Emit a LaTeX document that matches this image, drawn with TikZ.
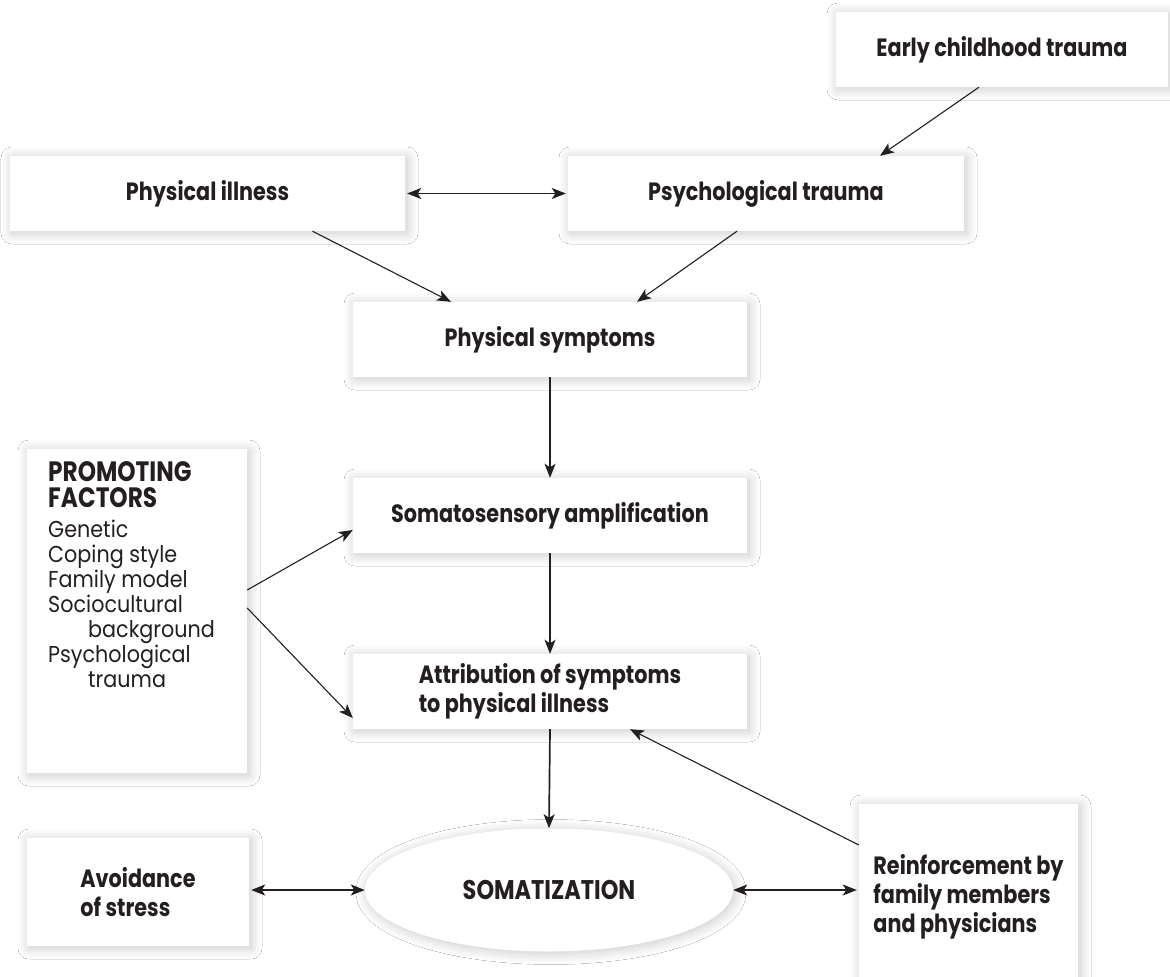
\documentclass[tikz,border=0pt]{standalone}
\usepackage{fontspec}
\setmainfont{Poppins}[FakeStretch=0.9]
\newfontfamily\hdfont{Poppins}[FakeStretch=0.83]
\usetikzlibrary{arrows.meta,shapes.geometric,shadows.blur}
\definecolor{ink}{HTML}{231F20}
\tikzset{
  box/.style={fill=white, draw=none, inner sep=0pt, align=center, text=ink,
    blur shadow={shadow xshift=2pt, shadow yshift=-2pt, shadow blur radius=11pt, shadow opacity=22, shadow blur steps=16},
    font=\hdfont\fontsize{25}{29}\selectfont\bfseries},
  plain/.style={inner sep=0pt, align=left, text=ink},
  tip/.tip={Stealth[length=14pt,width=11pt,inset=3.5pt]},
  arr/.style={-tip, line width=1.1pt, draw=ink},
  varr/.style={arr, line width=1.7pt},
  darr/.style={tip-tip, line width=1.7pt, draw=ink}
}
\begin{document}
\begin{tikzpicture}[x=1pt,y=-1pt]
\useasboundingbox (0,0) rectangle (1170,977);
\fill[white] (0,0) rectangle (1170,977);
\node[box, minimum width=332pt, minimum height=75pt] (early) at (1002,49.5) {Early childhood trauma};
\node[box, minimum width=395pt, minimum height=75pt] (pill) at (207.5,193.5) {Physical illness};
\node[box, minimum width=396pt, minimum height=75pt] (ptrauma) at (766,193.5) {Psychological trauma};
\node[box, minimum width=394pt, minimum height=75pt] (psym) at (550,339.5) {Physical symptoms};
\node[box, minimum width=394pt, minimum height=75pt] (somato) at (550,515.5) {Somatosensory amplification};
\node[box, minimum width=394pt, minimum height=75pt, align=left] (attr) at (550,691.5) {Attribution of symptoms\\to physical illness};
\node[box, minimum width=220pt, minimum height=324pt] (promo) at (137,611) {};
\node[plain, anchor=north west, font=\fontsize{23}{25}\selectfont] (promotext) at (48,461)
  {{\hdfont\fontsize{28}{25}\selectfont\bfseries PROMOTING}\\[1pt]{\hdfont\fontsize{28}{25}\selectfont\bfseries FACTORS}\\[5pt]Genetic\\Coping style\\Family model\\Sociocultural\\\hspace*{40pt}background\\Psychological\\\hspace*{40pt}trauma};
\node[box, minimum width=222pt, minimum height=108pt, align=left] (avoid) at (138,892) {Avoidance\\of stress};
\node[box, minimum width=219pt, minimum height=186pt, align=left] (reinf) at (968.5,897) {Reinforcement by\\family members\\and physicians};
\node[box, ellipse, minimum width=368pt, minimum height=123pt, font=\hdfont\fontsize{27}{30}\selectfont\bfseries] (soma) at (549,890) {SOMATIZATION};

\draw[arr] ([xshift=-23pt]early.south) -- ([xshift=114pt]ptrauma.north);
\draw[darr] ([xshift=2pt]pill.east) -- ([xshift=-2pt]ptrauma.west);
\draw[arr] ([xshift=105pt]pill.south) -- ([xshift=-99pt]psym.north);
\draw[arr] ([xshift=-29pt]ptrauma.south) -- ([xshift=87pt]psym.north);
\draw[varr] (psym.south) -- (somato.north);
\draw[arr] ([yshift=21pt]promo.east) -- ([yshift=-14.5pt]somato.west);
\draw[arr] ([yshift=3pt]promo.east) -- ([yshift=-26.5pt]attr.west);
\draw[varr] (somato.south) -- (attr.north);
\draw[varr] (attr.south) -- (soma.north);
\draw[arr] ([yshift=52pt]reinf.west) -- ([xshift=80pt]attr.south);
\draw[darr] ([xshift=2pt]avoid.east |- soma.west) -- (soma.west);
\draw[darr] (soma.east) -- ([xshift=-2pt]reinf.west |- soma.east);
\end{tikzpicture}
\end{document}
